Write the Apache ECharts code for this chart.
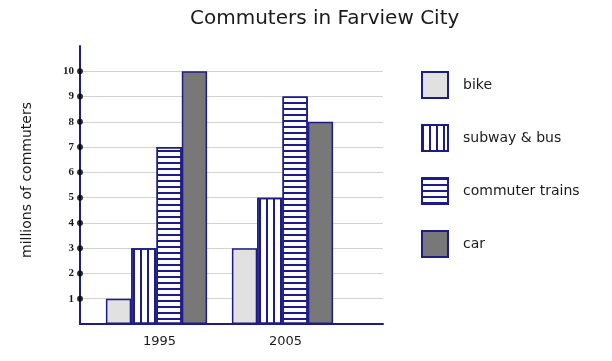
<!DOCTYPE html>
<html>
<head>
<meta charset="utf-8">
<script src="https://cdn.jsdelivr.net/npm/echarts@6/dist/echarts.min.js"></script>
<style>html,body{margin:0;padding:0;background:#fff;}#c{width:612px;height:361px;}</style>
</head>
<body>
<div id="c"></div>
<script>
var years = ['1995', '2005'];
var bike = [1, 3];
var subwayBus = [3, 5];
var commuterTrains = [7, 9];
var car = [10, 8];
var yTicks = [1, 2, 3, 4, 5, 6, 7, 8, 9, 10];

var NAVY = '#1c1c84';
var chart = echarts.init(document.getElementById('c'), null, {renderer: 'canvas'});

function barSeries(name, data, fill, decal) {
  var s = {
    name: name, type: 'bar', data: data, xAxisIndex: 1, yAxisIndex: 1,
    barWidth: 25.3, barGap: '0%',
    itemStyle: {color: fill, borderColor: NAVY, borderWidth: 1.5},
    emphasis: {disabled: true}
  };
  if (decal) s.itemStyle.decal = decal;
  return s;
}

var option = {
  animation: false,
  backgroundColor: '#ffffff',
  title: {
    text: 'Commuters in Farview City', left: 185, top: 4,
    textStyle: {fontFamily: 'DejaVu Sans', fontSize: 20, fontWeight: 'normal', color: '#1a1a1a'}
  },
  legend: {
    orient: 'vertical', left: 421, top: 71, padding: 0,
    itemWidth: 26, itemHeight: 26, itemGap: 25,
    icon: 'rect',
    data: ['bike', 'subway & bus', 'commuter trains', 'car'],
    textStyle: {fontFamily: 'DejaVu Sans', fontSize: 14, color: '#1a1a1a', padding: [0, 0, 0, 10]}
  },
  grid: [
    {left: 80, top: 46, width: 303, height: 278},
    {left: 93.5, top: 46, width: 252, height: 278}
  ],
  xAxis: [
    {gridIndex: 0, type: 'value', min: 0, max: 1,
     axisLine: {show: true, lineStyle: {color: NAVY, width: 2}},
     axisTick: {show: false}, axisLabel: {show: false}, splitLine: {show: false}},
    {gridIndex: 1, type: 'category', data: years,
     axisLine: {show: false}, axisTick: {show: false},
     axisLabel: {margin: 11, fontFamily: 'DejaVu Sans', fontSize: 13, color: '#1a1a1a', padding: [0, 0, 0, 6]}}
  ],
  yAxis: [
    {gridIndex: 0, type: 'value', min: 0, max: 11, interval: 1,
     name: 'millions of commuters', nameLocation: 'middle', nameRotate: 90, nameGap: 46,
     nameTextStyle: {fontFamily: 'DejaVu Sans', fontSize: 14, color: '#1a1a1a', padding: [0, 0, 0, 10]},
     axisLine: {show: true, lineStyle: {color: NAVY, width: 2}},
     axisTick: {show: false},
     axisLabel: {margin: 6, showMinLabel: false, showMaxLabel: false,
                 fontFamily: 'Liberation Serif', fontWeight: 'bold', fontSize: 11, color: '#1a1a1a'},
     splitLine: {show: true, showMinLine: false, showMaxLine: false, lineStyle: {color: '#d2d2d2', width: 1}}},
    {gridIndex: 1, type: 'value', min: 0, max: 11, interval: 1, show: false,
     splitLine: {show: false}}
  ],
  series: [
    barSeries('bike', bike, '#e1e1e1'),
    barSeries('subway & bus', subwayBus, '#ffffff',
      {symbol: 'rect', symbolSize: 1, color: NAVY, dashArrayX: [2, 4.3], dashArrayY: [10, 0]}),
    barSeries('commuter trains', commuterTrains, '#fbfbff',
      {symbol: 'rect', symbolSize: 1, color: NAVY, dashArrayX: [10, 0], dashArrayY: [2, 3.8]}),
    barSeries('car', car, '#787878'),
    {type: 'scatter', xAxisIndex: 0, yAxisIndex: 0, clip: false, z: 10,
     symbolSize: 6, itemStyle: {color: '#000'}, silent: true,
     data: yTicks.map(function (v) { return [0, v]; })}
  ]
};
chart.setOption(option);
</script>
</body>
</html>
